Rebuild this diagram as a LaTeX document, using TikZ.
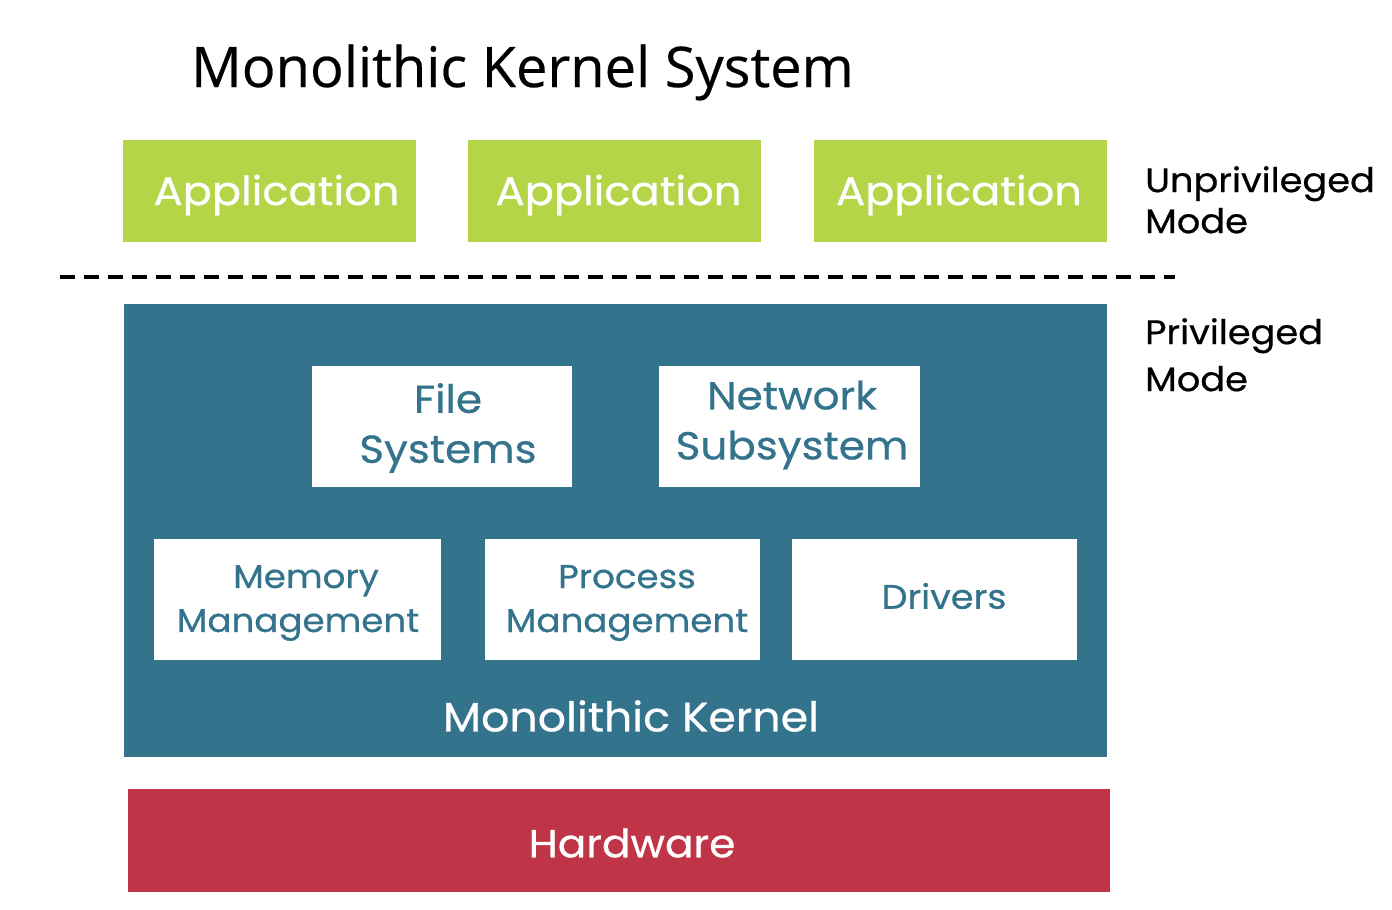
\documentclass[tikz,border=0pt]{standalone}
\usepackage{fontspec}
\setmainfont{Poppins}[FakeStretch=1.08, FakeBold=0.6]
\newfontfamily\titlefont{Open Sans}[FakeBold=0.4]
\definecolor{appgreen}{HTML}{B5D548}
\definecolor{kteal}{HTML}{33738C}
\definecolor{hwred}{HTML}{C03448}
\tikzset{
  apptext/.style={text=white, font=\fontsize{40}{44}\selectfont},
  sub/.style={fill=white, draw=none, text=kteal, align=center},
  subtext/.style={text=kteal, align=center, inner sep=0pt},
  big/.style={font=\fontsize{39}{50}\selectfont},
  small/.style={font=\fontsize{33}{44}\selectfont},
  modelbl/.style={anchor=north west, align=left, text=black, inner sep=0pt},
}
\begin{document}
\begin{tikzpicture}[x=1pt,y=-1pt]
\useasboundingbox (0,0) rectangle (1392,910);
\node[anchor=base west, inner sep=0pt, font=\titlefont\fontsize{56}{60}\selectfont] (title) at (191,87) {Monolithic Kernel System};
% applications
\path[fill=appgreen] (123,140) rectangle (416,242);
\node[apptext] (app1) at (276.5,195) {Application};
\path[fill=appgreen] (468,140) rectangle (761,242);
\node[apptext] (app2) at (618.5,195) {Application};
\path[fill=appgreen] (814,140) rectangle (1107,242);
\node[apptext] (app3) at (959,195) {Application};
% dashed separator
\coordinate (dl) at (60,277);
\coordinate (dr) at (1175,277);
\draw[line width=4pt, dash pattern=on 15pt off 9pt] (dl) -- (dr);
% kernel
\path[fill=kteal] (124,304) rectangle (1107,757);
\node[sub, minimum width=260pt, minimum height=121pt] (fs) at (442,426.5) {};
\node[subtext, big] (fst) at (448,428) {File\\Systems};
\node[sub, minimum width=261pt, minimum height=121pt] (net) at (789.5,426.5) {};
\node[subtext, big] (nett) at (792,425) {Network\\Subsystem};
\node[sub, minimum width=287pt, minimum height=121pt] (mem) at (297.5,599.5) {};
\node[subtext, small] (memt) at (298,603) {\hspace*{16pt}Memory\\Management};
\node[sub, minimum width=275pt, minimum height=121pt] (proc) at (622.5,599.5) {};
\node[subtext, small] (proct) at (627,603) {Process\\Management};
\node[sub, minimum width=285pt, minimum height=121pt] (drv) at (934.5,599.5) {};
\node[subtext, font=\fontsize{34}{44}\selectfont] (drvt) at (944,596) {Drivers};
\node[text=white, font=\fontsize{41}{44}\selectfont] (mk) at (631,716) {Monolithic Kernel};
% hardware
\path[fill=hwred] (128,789) rectangle (1110,892);
\node[text=white, font=\fontsize{39}{44}\selectfont] (hw) at (632,843) {Hardware};
% mode labels
\node[modelbl, font=\fontsize{34}{41}\selectfont] (unpriv) at (1145,166) {Unprivileged\\Mode};
\node[modelbl, font=\fontsize{34}{47}\selectfont] (priv) at (1145,318) {Privileged\\Mode};
\end{tikzpicture}
\end{document}
